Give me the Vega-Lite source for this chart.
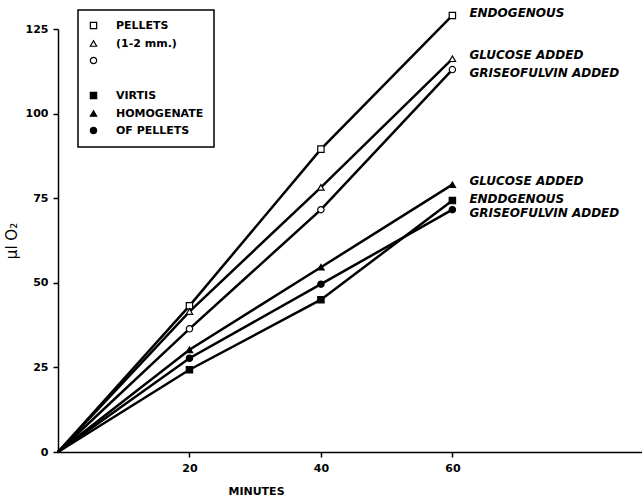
{
  "$schema": "https://vega.github.io/schema/vega-lite/v6.json",
  "width": 585,
  "height": 423,
  "autosize": {"type": "none"},
  "padding": {"left": 58, "top": 29, "right": 0, "bottom": 48},
  "background": "white",
  "config": {
    "view": {"stroke": null},
    "font": "DejaVu Sans",
    "axis": {
      "domainColor": "black",
      "domainWidth": 1.5,
      "tickColor": "black",
      "tickWidth": 1.5,
      "tickSize": 5,
      "grid": false,
      "labelFont": "DejaVu Sans",
      "labelFontWeight": "bold",
      "labelFontSize": 11,
      "labelColor": "black",
      "labelPadding": 5,
      "titleFont": "DejaVu Sans",
      "titleColor": "black"
    },
    "legend": {
      "orient": "none",
      "legendX": 20,
      "legendY": -19,
      "strokeColor": "black",
      "strokeWidth": 1.5,
      "padding": 10,
      "labelFont": "DejaVu Sans",
      "labelFontWeight": "bold",
      "labelFontSize": 11,
      "labelColor": "black",
      "labelOffset": 17,
      "labelLimit": 0,
      "rowPadding": 5,
      "symbolSize": 40,
      "symbolStrokeWidth": 1.2
    }
  },
  "data": {
    "values": [
      {"series": "P-endo", "minute": 0, "value": 0, "label": "ENDOGENOUS"},
      {"series": "P-endo", "minute": 20, "value": 43.2, "label": "ENDOGENOUS"},
      {"series": "P-endo", "minute": 40, "value": 89.5, "label": "ENDOGENOUS"},
      {"series": "P-endo", "minute": 60, "value": 129, "label": "ENDOGENOUS"},
      {"series": "P-glu", "minute": 0, "value": 0, "label": "GLUCOSE ADDED"},
      {"series": "P-glu", "minute": 20, "value": 41.5, "label": "GLUCOSE ADDED"},
      {"series": "P-glu", "minute": 40, "value": 78.2, "label": "GLUCOSE ADDED"},
      {"series": "P-glu", "minute": 60, "value": 116.2, "label": "GLUCOSE ADDED"},
      {"series": "P-gris", "minute": 0, "value": 0, "label": "GRISEOFULVIN ADDED"},
      {"series": "P-gris", "minute": 20, "value": 36.4, "label": "GRISEOFULVIN ADDED"},
      {"series": "P-gris", "minute": 40, "value": 71.6, "label": "GRISEOFULVIN ADDED"},
      {"series": "P-gris", "minute": 60, "value": 113, "label": "GRISEOFULVIN ADDED"},
      {"series": "V-glu", "minute": 0, "value": 0, "label": "GLUCOSE ADDED"},
      {"series": "V-glu", "minute": 20, "value": 30.2, "label": "GLUCOSE ADDED"},
      {"series": "V-glu", "minute": 40, "value": 54.6, "label": "GLUCOSE ADDED"},
      {"series": "V-glu", "minute": 60, "value": 79, "label": "GLUCOSE ADDED"},
      {"series": "V-endo", "minute": 0, "value": 0, "label": "ENDDGENOUS"},
      {"series": "V-endo", "minute": 20, "value": 24.3, "label": "ENDDGENOUS"},
      {"series": "V-endo", "minute": 40, "value": 45, "label": "ENDDGENOUS"},
      {"series": "V-endo", "minute": 60, "value": 74.3, "label": "ENDDGENOUS"},
      {"series": "V-gris", "minute": 0, "value": 0, "label": "GRISEOFULVIN ADDED"},
      {"series": "V-gris", "minute": 20, "value": 27.7, "label": "GRISEOFULVIN ADDED"},
      {"series": "V-gris", "minute": 40, "value": 49.6, "label": "GRISEOFULVIN ADDED"},
      {"series": "V-gris", "minute": 60, "value": 71.6, "label": "GRISEOFULVIN ADDED"}
    ]
  },
  "encoding": {
    "x": {
      "field": "minute",
      "type": "quantitative",
      "scale": {"domain": [0, 89], "nice": false, "zero": true},
      "axis": {
        "values": [20, 40, 60],
        "title": "MINUTES",
        "titleFontSize": 11,
        "titleFontWeight": "bold",
        "titleX": 198,
        "titleY": 39,
        "titleBaseline": "middle",
        "titleAlign": "center"
      }
    },
    "y": {
      "field": "value",
      "type": "quantitative",
      "scale": {"domain": [0, 125], "nice": false},
      "axis": {
        "values": [0, 25, 50, 75, 100, 125],
        "title": "μl O₂",
        "titleFontSize": 15,
        "titleFontWeight": "normal",
        "titlePadding": 6
      }
    }
  },
  "layer": [
    {
      "mark": {"type": "line", "color": "black", "strokeWidth": 2.5, "clip": false},
      "encoding": {"detail": {"field": "series"}}
    },
    {
      "transform": [{"filter": "datum.minute > 0"}],
      "mark": {"type": "point", "filled": false, "color": "black", "size": 40, "strokeWidth": 1.2, "opacity": 1, "clip": false},
      "encoding": {
        "shape": {
          "field": "series",
          "type": "nominal",
          "scale": {
            "domain": ["P-endo", "P-glu", "P-gris", "gap", "V-endo", "V-glu", "V-gris"],
            "range": ["square", "triangle-up", "circle", "M0,0", "square", "triangle-up", "circle"]
          },
          "legend": {
            "title": null,
            "labelExpr": "datum.value == 'P-endo' ? 'PELLETS' : datum.value == 'P-glu' ? '(1-2 mm.)' : datum.value == 'V-endo' ? 'VIRTIS' : datum.value == 'V-glu' ? 'HOMOGENATE' : datum.value == 'V-gris' ? 'OF PELLETS' : ''",
            "encode": {
              "labels": {
                "update": {
                  "dy": [{"test": "datum.value == 'P-endo' || datum.value == 'P-glu'", "value": 9}, {"value": 0}]
                }
              }
            }
          }
        },
        "fill": {
          "field": "series",
          "type": "nominal",
          "scale": {
            "domain": ["P-endo", "P-glu", "P-gris", "gap", "V-endo", "V-glu", "V-gris"],
            "range": ["white", "white", "white", "transparent", "black", "black", "black"]
          },
          "legend": {
            "title": null,
            "labelExpr": "datum.value == 'P-endo' ? 'PELLETS' : datum.value == 'P-glu' ? '(1-2 mm.)' : datum.value == 'V-endo' ? 'VIRTIS' : datum.value == 'V-glu' ? 'HOMOGENATE' : datum.value == 'V-gris' ? 'OF PELLETS' : ''",
            "encode": {
              "labels": {
                "update": {
                  "dy": [{"test": "datum.value == 'P-endo' || datum.value == 'P-glu'", "value": 9}, {"value": 0}]
                }
              }
            }
          }
        }
      }
    },
    {
      "transform": [{"filter": "datum.minute == 60 && datum.label == 'GLUCOSE ADDED'"}],
      "mark": {"type": "text", "align": "left", "baseline": "middle", "dx": 17, "dy": -4, "font": "DejaVu Sans", "fontWeight": "bold", "fontStyle": "italic", "fontSize": 12, "color": "black", "clip": false},
      "encoding": {"text": {"field": "label"}}
    },
    {
      "transform": [{"filter": "datum.minute == 60 && datum.label == 'GRISEOFULVIN ADDED'"}],
      "mark": {"type": "text", "align": "left", "baseline": "middle", "dx": 17, "dy": 3, "font": "DejaVu Sans", "fontWeight": "bold", "fontStyle": "italic", "fontSize": 12, "color": "black", "clip": false},
      "encoding": {"text": {"field": "label"}}
    },
    {
      "transform": [{"filter": "datum.minute == 60 && (datum.label == 'ENDOGENOUS' || datum.label == 'ENDDGENOUS')"}],
      "mark": {"type": "text", "align": "left", "baseline": "middle", "dx": 17, "dy": -2, "font": "DejaVu Sans", "fontWeight": "bold", "fontStyle": "italic", "fontSize": 12, "color": "black", "clip": false},
      "encoding": {"text": {"field": "label"}}
    }
  ]
}
